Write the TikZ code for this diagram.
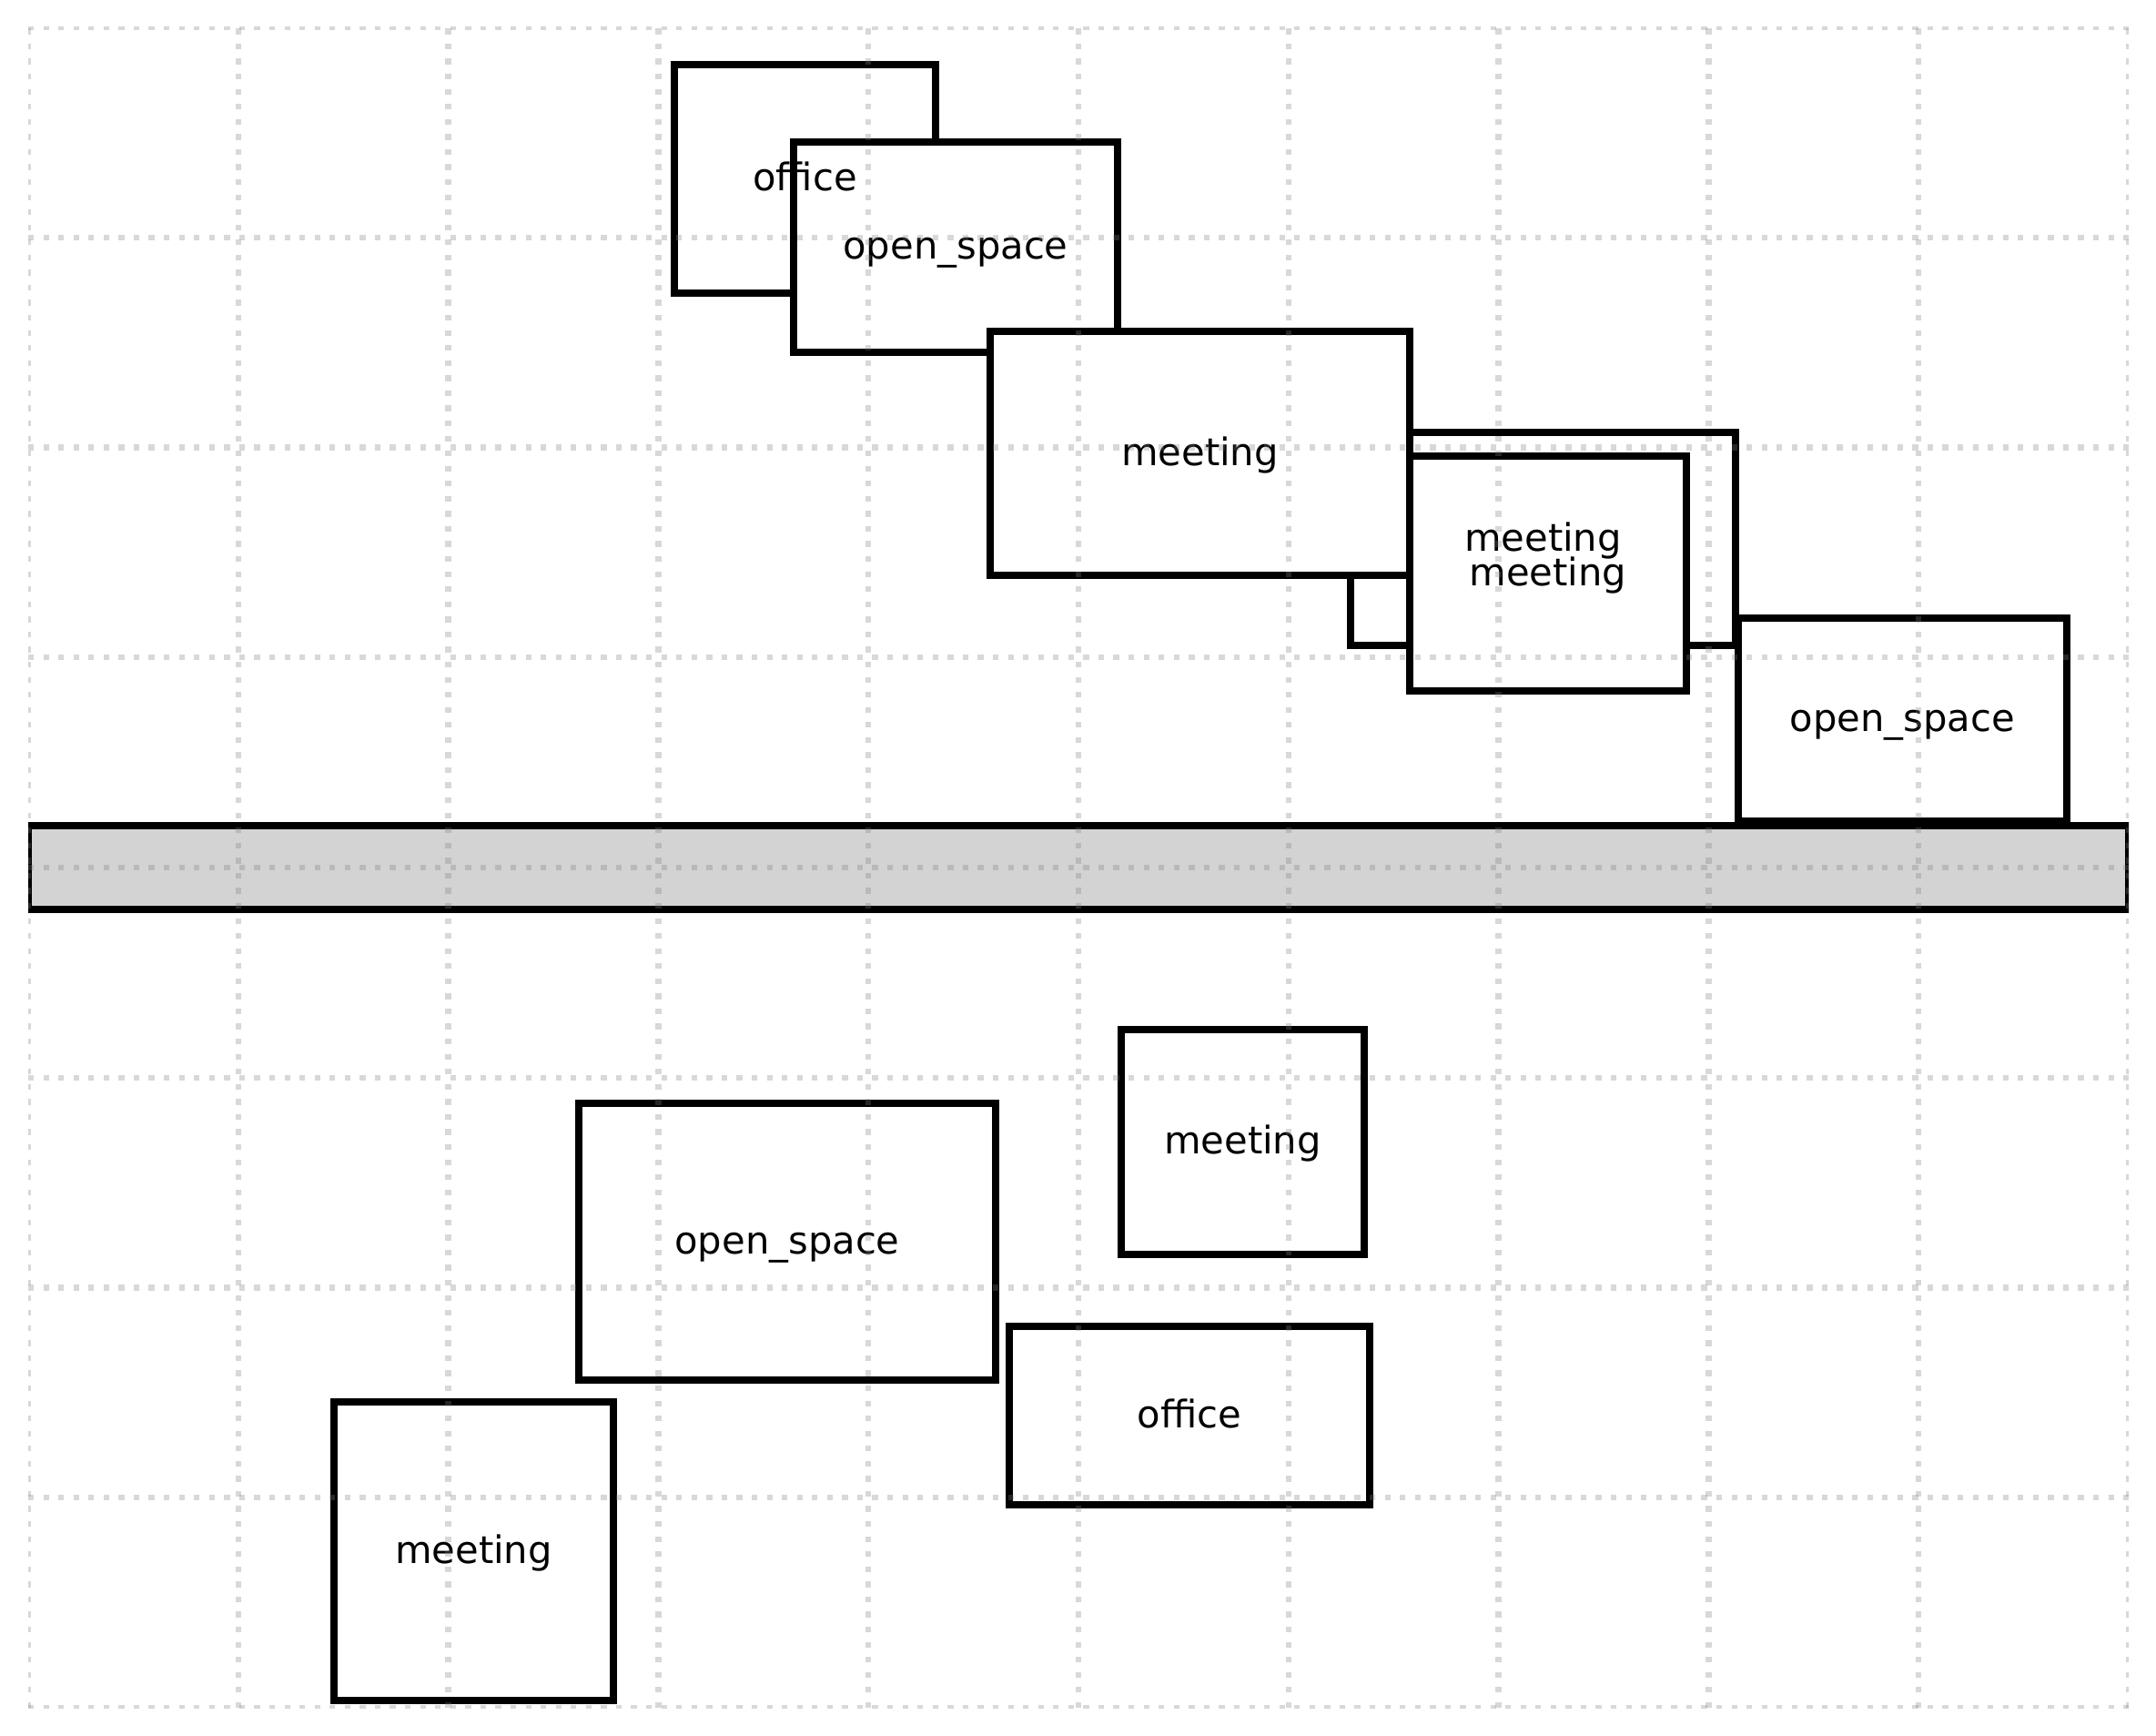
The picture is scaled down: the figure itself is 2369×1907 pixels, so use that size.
\documentclass[tikz,border=0pt]{standalone}
\usepackage{fontspec}
\setmainfont{DejaVu Sans}
\definecolor{corridorgray}{HTML}{D3D3D3}
\definecolor{gridgray}{HTML}{808080}
\begin{document}
\begin{tikzpicture}[x=0.24pt,y=-0.24pt,
  room/.style={draw=black,fill=white,line width=1.75pt},
  corridor/.style={draw=black,fill=corridorgray,line width=2pt},
  roomlabel/.style={font=\fontsize{10}{12}\selectfont,inner sep=0pt,
    text height=7.6pt,text depth=2.08pt},
  gridline/.style={draw=gridgray,draw opacity=0.3,line width=1.5pt,
    dash pattern=on 1.5pt off 2.475pt}]
\useasboundingbox (0,0) rectangle (2369,1907);
\fill[white] (0,0) rectangle (2369,1907);

\begin{scope}
  % everything is clipped to the plotting area
  \clip (31,30) rectangle (2339,1876);

  % rooms, in drawing order: x1/y1/x2/y2/label/name
  \foreach \xa/\ya/\xb/\yb/\lbl/\nm in {
    741/71/1028/322/office/roomA,
    872/156/1228/387/open\_space/roomB,
    1484/475/1907/709/meeting/roomC,
    1088/364/1549/632/meeting/roomD,
    1549/501/1853/759/meeting/roomE,
    1910/679/2271/902/open\_space/roomF,
    1232/1131/1499/1378/meeting/roomG,
    636/1212/1094/1516/open\_space/roomH,
    1109/1457/1505/1653/office/roomI,
    367/1540/674/1868/meeting/roomJ}
    {\draw[room] (\xa,\ya) rectangle (\xb,\yb);}

  % corridor across the floor
  \draw[corridor] (31,907) rectangle (2339,999);

  % room labels on top of all rooms
  \foreach \xa/\ya/\xb/\yb/\lbl/\nm in {
    741/71/1028/322/office/roomA,
    872/156/1228/387/open\_space/roomB,
    1484/475/1907/709/meeting/roomC,
    1088/364/1549/632/meeting/roomD,
    1549/501/1853/759/meeting/roomE,
    1910/679/2271/902/open\_space/roomF,
    1232/1131/1499/1378/meeting/roomG,
    636/1212/1094/1516/open\_space/roomH,
    1109/1457/1505/1653/office/roomI,
    367/1540/674/1868/meeting/roomJ}
    {\node[roomlabel] (\nm) at ({(\xa+\xb)/2},{(\ya+\yb)/2+1.5}) {\lbl};}

  % dotted grid over everything
  \foreach \k in {0,...,10}
    \draw[gridline] ({31+230.8*\k},1876) -- ({31+230.8*\k},30);
  \foreach \k in {0,...,8}
    \draw[gridline] (31,{1876-230.75*\k}) -- (2339,{1876-230.75*\k});
\end{scope}
\end{tikzpicture}
\end{document}
